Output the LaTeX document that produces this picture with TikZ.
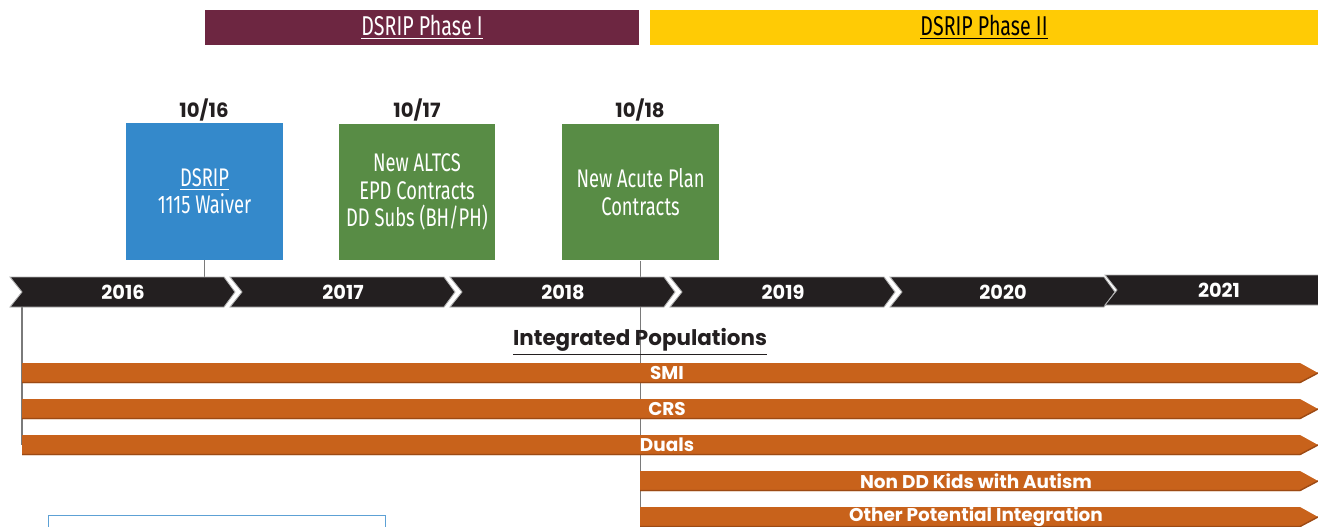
\documentclass[tikz,border=0pt]{standalone}
\usepackage{fontspec}
\setmainfont{Poppins}
\newfontfamily\condfont[FakeStretch=0.72]{Fira Sans}
\definecolor{phaseone}{HTML}{6D2641}
\definecolor{phasetwo}{HTML}{FFCB05}
\definecolor{waiverblue}{HTML}{3489CB}
\definecolor{contractgreen}{HTML}{588C45}
\definecolor{poporange}{HTML}{C8621B}
\definecolor{popshade}{HTML}{9C4A14}
\definecolor{tlblack}{HTML}{231F20}
\definecolor{linkgray}{HTML}{7A7A7A}
\tikzset{
  phasebar/.style={minimum height=0.7cm, inner sep=0pt, font=\condfont\fontsize{15.5}{17}\selectfont},
  milestone/.style={minimum width=3.14cm, minimum height=2.74cm, inner sep=0pt, text=white,
    align=center, font=\condfont\fontsize{14.5}{15.6}\selectfont},
  datelabel/.style={font=\bfseries\fontsize{11.2}{13}\selectfont, text=tlblack},
  yearlabel/.style={font=\bfseries\fontsize{11}{13}\selectfont, text=white},
  poplabel/.style={font=\bfseries\fontsize{10.5}{12}\selectfont, text=white},
  link/.style={draw=linkgray, line width=1.1pt},
}
\begin{document}
\begin{tikzpicture}[x=0.02cm,y=-0.02cm]
\useasboundingbox (0,0) rectangle (1318,527);
\clip (0,0) rectangle (1318,527);
% phases
\node[phasebar, fill=phaseone, text=white, minimum width=8.68cm] (phase1) at (422,27.5) {\raisebox{-2pt}{\underline{DSRIP Phase I}}};
\node[phasebar, fill=phasetwo, text=black, minimum width=13.36cm] (phase2) at (984,27.5) {\raisebox{-2pt}{\underline{DSRIP Phase II}}};
% milestones
\node[datelabel] (d16) at (204,110) {10/16};
\node[datelabel] (d17) at (417,110) {10/17};
\node[datelabel] (d18) at (640,110) {10/18};
\node[milestone, fill=waiverblue] (waiver) at (204.5,191.5) {\underline{DSRIP}\\1115 Waiver};
\node[milestone, fill=contractgreen] (altcs) at (417,192) {New ALTCS\\EPD Contracts\\DD Subs (BH/PH)};
\node[milestone, fill=contractgreen] (acute) at (640.5,192) {New Acute Plan\\Contracts};
% connectors
\coordinate (tltop) at (0,277);
\coordinate (bottom) at (0,527);
\coordinate (popstart) at (22,307);
\coordinate (popend) at (22,445);
\draw[link] (waiver.south) -- (waiver.south |- tltop);
\draw[link] (acute.south) -- (acute.south |- bottom);
\draw[link] (popstart) -- (popend);
% timeline
\foreach \i/\yr in {0/2016,1/2017,2/2018,3/2019,4/2020} {
  \pgfmathsetmacro\xl{10+220*\i}
  \fill[tlblack, draw=gray!60, line width=0.5pt] (\xl,277) -- (\xl+214,277) -- (\xl+225,292) -- (\xl+214,307) -- (\xl,307) -- (\xl+12,292) -- cycle;
  \node[yearlabel] (yr\yr) at (\xl+113,292) {\yr};
}
\fill[tlblack, draw=gray!60, line width=0.5pt] (1105,275) -- (1320,275) -- (1320,305) -- (1105,305) -- (1117,290) -- cycle;
\node[yearlabel] (yr2021) at (1219,290) {2021};
\node[font=\bfseries\fontsize{12.2}{14}\selectfont, text=tlblack] (integ) at (640,342) {\underline{Integrated Populations}};
% populations
\foreach \y/\x/\name/\txt in {363/22/smi/SMI, 399/22/crs/CRS, 435/22/duals/Duals,
    471/640/autism/Non DD Kids with Autism, 507/640/other/Other Potential Integration} {
  \fill[poporange] (\x,\y) -- (1300,\y) -- (1318,\y+10) -- (1300,\y+20) -- (\x,\y+20) -- cycle;
  \draw[popshade, line width=0.8pt] (\x,\y+19.5) -- (1300,\y+19.5) -- (1318,\y+10);
  \node[poplabel] (\name) at ({(\x+1312)/2},\y+10) {\txt};
}
\node[draw=waiverblue!80, line width=0.7pt, minimum width=6.74cm, minimum height=0.6cm, anchor=north west] (notebox) at (48,515) {};
\end{tikzpicture}
\end{document}
